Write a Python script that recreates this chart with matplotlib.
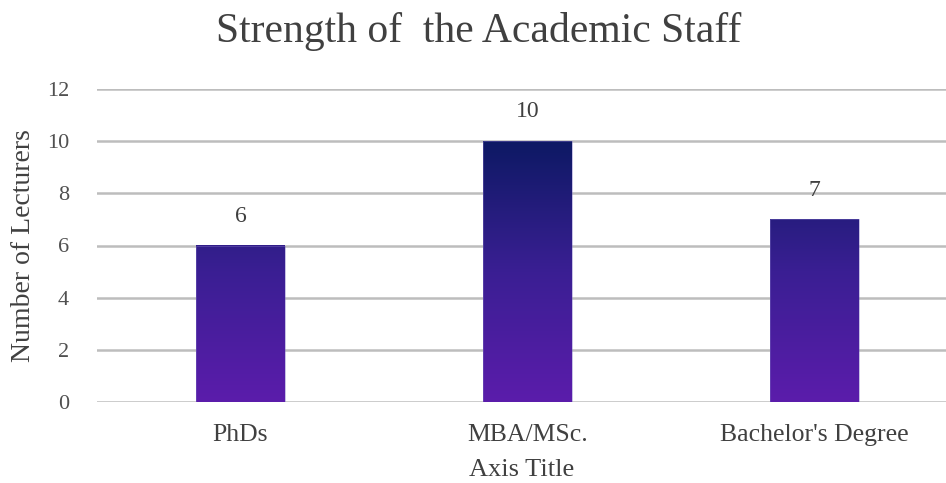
import matplotlib.pyplot as plt
import numpy as np
from matplotlib.colors import LinearSegmentedColormap
from matplotlib.patches import Rectangle

categories = ["PhDs", "MBA/MSc.", "Bachelor's Degree"]
lecturers = [6, 10, 7]
y_ticks = [0, 2, 4, 6, 8, 10, 12]

plt.rcParams['font.family'] = ['Liberation Serif', 'DejaVu Serif']

fig = plt.figure(figsize=(9.46, 4.83), dpi=100)
ax = fig.add_axes([97 / 946, 81 / 483, 849 / 946, 313 / 483])

# purple at the base running to navy at the top, shared scale across bars
grad = LinearSegmentedColormap.from_list('staff', ['#5b1cab', '#3a1f93', '#0d1964'])
bar_w = 0.31
x = np.arange(len(categories))
ymax = max(lecturers)

for xi, h in zip(x, lecturers):
    strip = np.linspace(0, h / ymax, 256).reshape(-1, 1)
    ax.imshow(strip, cmap=grad, vmin=0, vmax=1, origin='lower', aspect='auto',
              extent=[xi - bar_w / 2, xi + bar_w / 2, 0, h], zorder=3,
              interpolation='bilinear')
    ax.add_patch(Rectangle((xi - bar_w / 2, 0), bar_w, h, fill=False,
                           edgecolor='#7a6cc0', lw=0.6, alpha=0.5, zorder=4))
    ax.text(xi, h + 0.72, str(h), ha='center', va='bottom', fontsize=17,
            color='#404040', zorder=5)

ax.set_xlim(-0.5, 2.46)
ax.set_ylim(0, 12)
ax.set_yticks(y_ticks)
ax.set_xticks(x)
ax.set_xticklabels(categories, fontsize=18.5, color='#404040')
ax.tick_params(axis='y', labelsize=16, labelcolor='#505050', length=0, pad=20)
ax.tick_params(axis='x', length=0, pad=16)
ax.grid(axis='y', color='#bdbdbd', lw=1.8, zorder=0)
ax.set_axisbelow(True)
for s in ['top', 'right', 'left', 'bottom']:
    ax.spines[s].set_visible(False)

ax.set_ylabel('Number of Lecturers', fontsize=20, color='#404040', labelpad=8)
ax.set_xlabel('Axis Title', fontsize=19, color='#404040', labelpad=9)
fig.text(0.506, 0.935, 'Strength of  the Academic Staff', ha='center', va='center',
         fontsize=30, color='#404040')

fig.savefig('out.png', dpi=100)
